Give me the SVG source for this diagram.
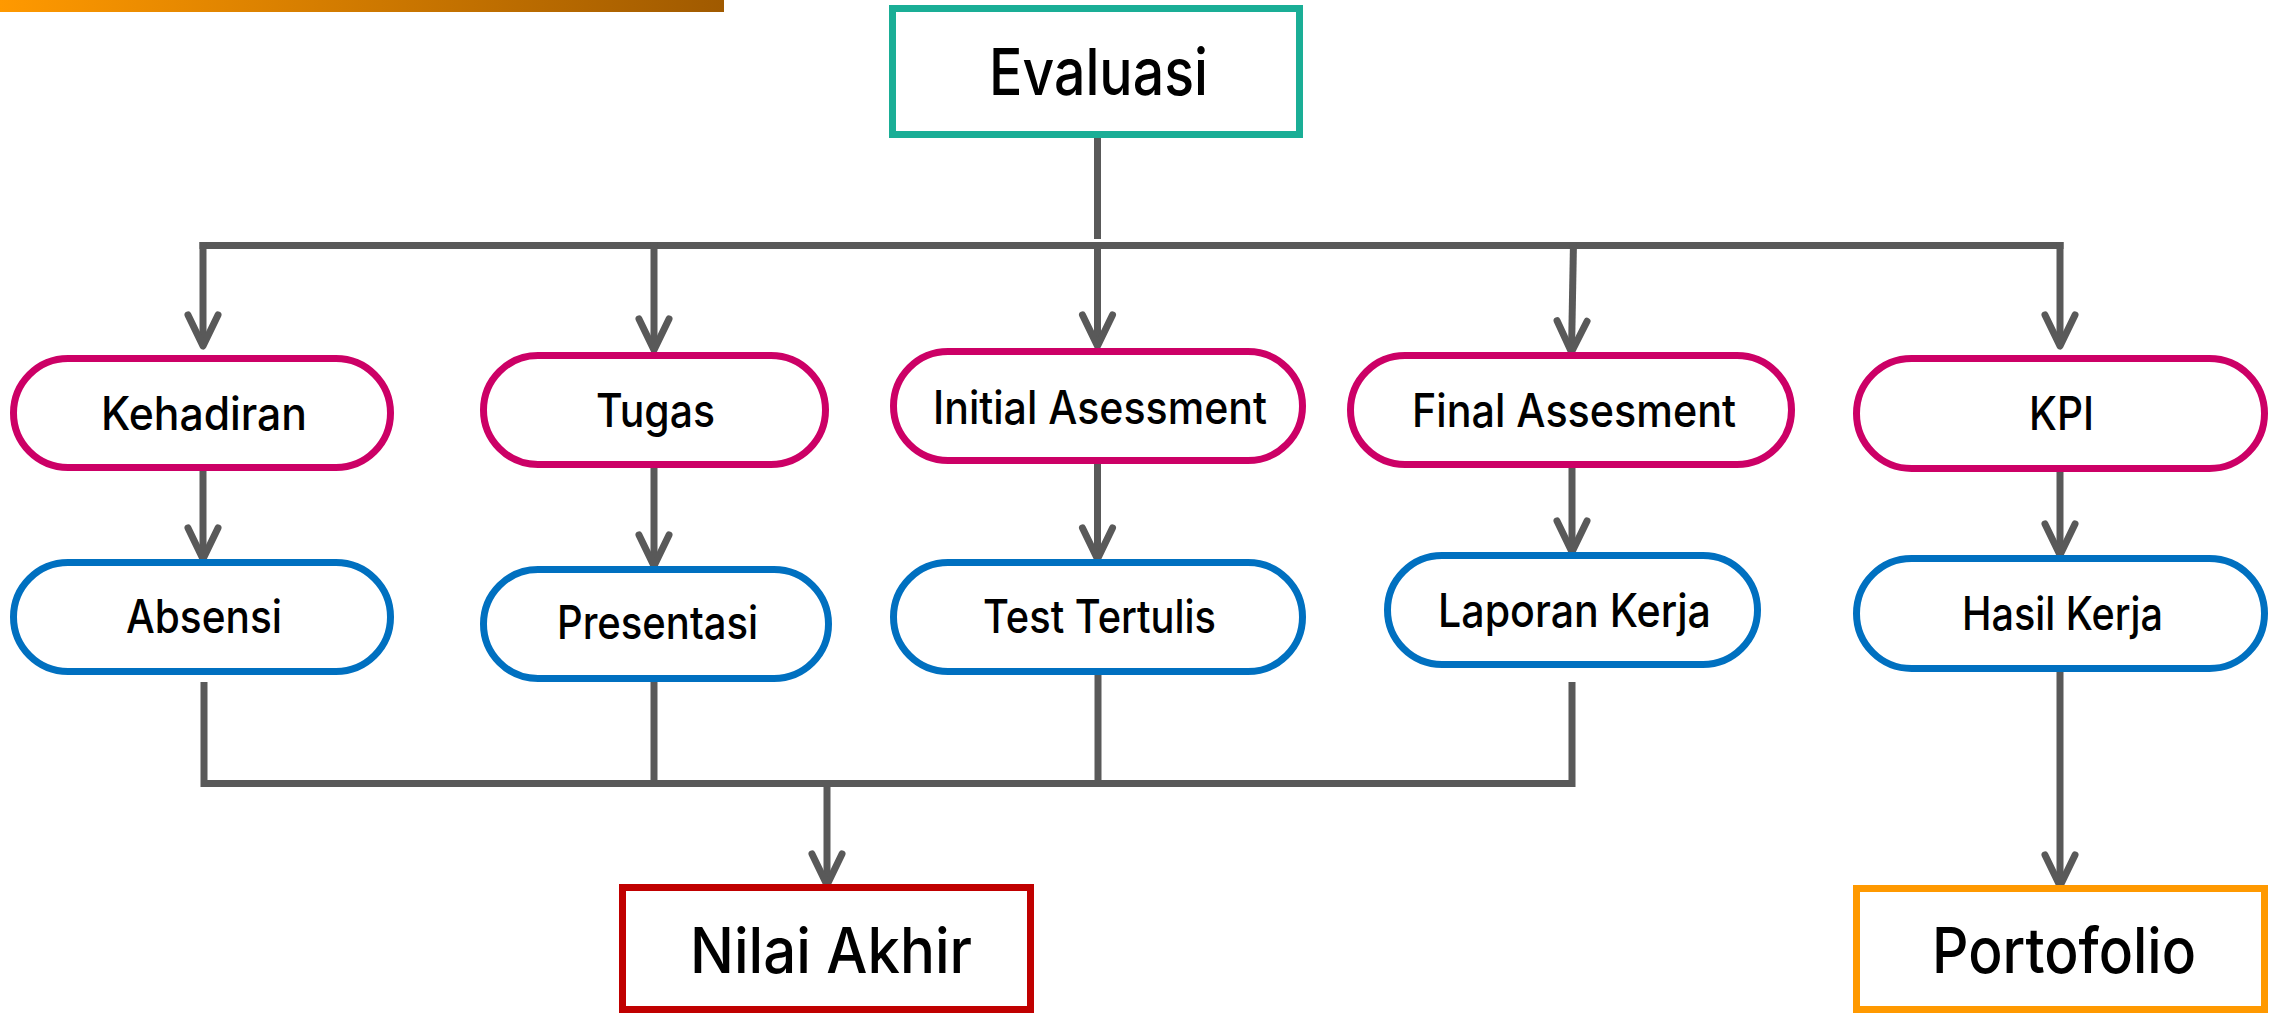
<svg xmlns="http://www.w3.org/2000/svg" width="2277" height="1014" viewBox="0 0 2277 1014">
<style>
.pill{fill:#fff;stroke-width:7}
.top{stroke:#cc0066}
.bot{stroke:#0070c0}
.box{fill:#fff;stroke-width:7}
.t{font-family:Inter,"Noto Sans","Liberation Sans",sans-serif;fill:#000;font-size:46px;font-weight:500}
.big{font-size:63px}
.c{fill:none;stroke:#595959;stroke-width:7}
.a{marker-end:url(#arr)}
</style>
<defs>
<linearGradient id="g" x1="0" y1="0" x2="1" y2="0">
<stop offset="0" stop-color="#ff9900"/>
<stop offset="1" stop-color="#a05a00"/>
</linearGradient>
<marker id="arr" markerUnits="userSpaceOnUse" markerWidth="40" markerHeight="40" viewBox="-36 -20 40 40" refX="0" refY="0" orient="auto" overflow="visible">
<path d="M-31,-15 L0,0 L-31,15" fill="none" stroke="#595959" stroke-width="7" stroke-linecap="round" stroke-linejoin="round"/>
</marker>
</defs>
<rect x="0" y="0" width="724" height="12" fill="url(#g)"/>
<g id="connectors">
<path class="c" d="M1097.5 138 V239"/>
<path class="c" d="M199.5 245.5 H2063.5"/>
<path class="c a" d="M203 242 V346"/>
<path class="c a" d="M654 242 V350"/>
<path class="c a" d="M1097.5 249 V346"/>
<path class="c a" d="M1573.5 242 L1571.5 352"/>
<path class="c a" d="M2060 242 V346"/>
<path class="c a" d="M203 471 V559"/>
<path class="c a" d="M654 468 V566"/>
<path class="c a" d="M1097.5 464 V559"/>
<path class="c a" d="M1572 468 V552"/>
<path class="c a" d="M2060 472 V555"/>
<path class="c" d="M204 682 V783.5 H1572 V682"/>
<path class="c" d="M654 682 V780"/>
<path class="c" d="M1098 675 V780"/>
<path class="c a" d="M827 787 V885"/>
<path class="c a" d="M2060 672 V886"/>
</g>
<g id="evaluasi">
<rect class="box" x="892.5" y="8.5" width="407" height="126" stroke="#1aae96"/>
<text class="t" x="989" y="95" style="font-size:65px" textLength="219" lengthAdjust="spacingAndGlyphs">Evaluasi</text>
</g>
<g id="kehadiran">
<rect class="pill top" x="13.5" y="358.5" width="377" height="109" rx="54.5"/>
<text class="t" x="101" y="430" textLength="206" lengthAdjust="spacingAndGlyphs">Kehadiran</text>
</g>
<g id="tugas">
<rect class="pill top" x="483.5" y="355.5" width="342" height="109" rx="54.5"/>
<text class="t" x="596" y="427" textLength="119" lengthAdjust="spacingAndGlyphs">Tugas</text>
</g>
<g id="initial-asessment">
<rect class="pill top" x="893.5" y="351.5" width="409" height="109" rx="54.5"/>
<text class="t" x="933" y="424" textLength="334" lengthAdjust="spacingAndGlyphs">Initial Asessment</text>
</g>
<g id="final-assesment">
<rect class="pill top" x="1350.5" y="355.5" width="441" height="109" rx="54.5"/>
<text class="t" x="1412" y="427" textLength="324" lengthAdjust="spacingAndGlyphs">Final Assesment</text>
</g>
<g id="kpi">
<rect class="pill top" x="1856.5" y="358.5" width="408" height="110" rx="55"/>
<text class="t" x="2029" y="430" textLength="65" lengthAdjust="spacingAndGlyphs">KPI</text>
</g>
<g id="absensi">
<rect class="pill bot" x="13.5" y="562.5" width="377" height="109" rx="54.5"/>
<text class="t" x="126" y="633" textLength="156" lengthAdjust="spacingAndGlyphs">Absensi</text>
</g>
<g id="presentasi">
<rect class="pill bot" x="483.5" y="569.5" width="345" height="109" rx="54.5"/>
<text class="t" x="557" y="639" textLength="201" lengthAdjust="spacingAndGlyphs">Presentasi</text>
</g>
<g id="test-tertulis">
<rect class="pill bot" x="893.5" y="562.5" width="409" height="109" rx="54.5"/>
<text class="t" x="983" y="633" textLength="233" lengthAdjust="spacingAndGlyphs">Test Tertulis</text>
</g>
<g id="laporan-kerja">
<rect class="pill bot" x="1387.5" y="555.5" width="370" height="109" rx="54.5"/>
<text class="t" x="1438" y="627" textLength="273" lengthAdjust="spacingAndGlyphs">Laporan Kerja</text>
</g>
<g id="hasil-kerja">
<rect class="pill bot" x="1856.5" y="558.5" width="408" height="110" rx="55"/>
<text class="t" x="1962" y="630" textLength="201" lengthAdjust="spacingAndGlyphs">Hasil Kerja</text>
</g>
<g id="nilai-akhir">
<rect class="box" x="622.5" y="887.5" width="408" height="122" stroke="#c00000"/>
<text class="t big" x="690" y="973" textLength="282" lengthAdjust="spacingAndGlyphs">Nilai Akhir</text>
</g>
<g id="portofolio">
<rect class="box" x="1856.5" y="888.5" width="408" height="121" stroke="#ff9900"/>
<text class="t big" x="1932" y="973" textLength="264" lengthAdjust="spacingAndGlyphs">Portofolio</text>
</g>
</svg>
